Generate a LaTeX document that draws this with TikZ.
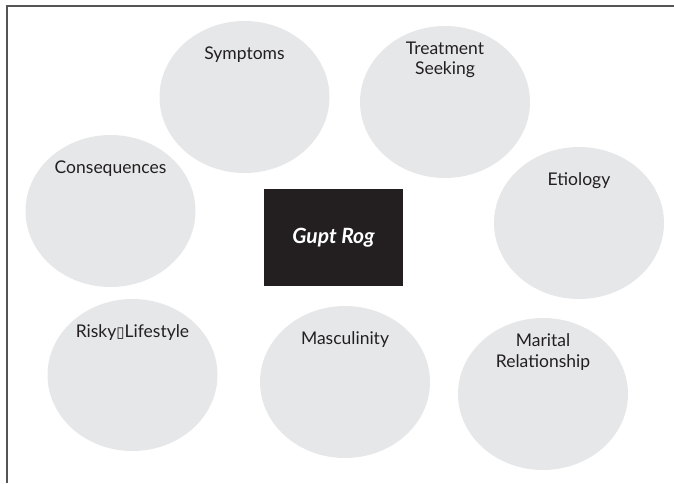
\documentclass[tikz,border=0pt]{standalone}
\usepackage{fontspec}
\setmainfont{Lato}
\newfontfamily\dejavu{DejaVu Sans}
\usetikzlibrary{shapes.geometric}
\definecolor{bubble}{HTML}{E6E7E8}
\definecolor{ink}{HTML}{231F20}
\definecolor{framegray}{HTML}{555555}
\tikzset{
  bubble/.style={ellipse, fill=bubble, draw=none, minimum width=170pt, minimum height=152pt, inner sep=0pt},
  bubbletext/.style={text=ink, font=\fontsize{17.5}{20.5}\selectfont, align=center, inner sep=0pt},
  core/.style={rectangle, fill=ink, minimum width=139pt, minimum height=97pt, inner sep=0pt,
    text=white, font=\fontsize{21}{24}\selectfont\bfseries\itshape},
}
\begin{document}
\begin{tikzpicture}[x=1pt,y=-1pt]
\useasboundingbox (0,0) rectangle (674,483);
\coordinate (fbl) at (6.5,483);
\coordinate (ftl) at (6.5,5.8);
\coordinate (ftr) at (674,5.8);
\draw[framegray, line width=2pt] (fbl) -- (ftl) -- (ftr);

\node[bubble] (sym) at (244.5,97) {};
\node[bubble] (treat) at (445,102) {};
\node[bubble] (cons) at (110.5,211) {};
\node[bubble] (etio) at (579,223) {};
\node[bubble] (risky) at (132.5,375) {};
\node[bubble] (masc) at (345,382) {};
\node[bubble] (mar) at (543,394) {};

\node[bubbletext] (symT) at ([yshift=-34pt]sym.north) {Symptoms};
\node[bubbletext] (treatT) at ([yshift=-34pt]treat.north) {Treatment\\Seeking};
\node[bubbletext] (consT) at ([yshift=-34pt]cons.north) {Consequences};
\node[bubbletext] (etioT) at ([yshift=-34pt]etio.north) {Etiology};
\node[bubbletext] (riskyT) at ([yshift=-34pt]risky.north) {Risky{\dejavu\fontsize{15}{15}\selectfont ▯}Lifestyle};
\node[bubbletext] (mascT) at ([yshift=-34pt]masc.north) {Masculinity};
\node[bubbletext] (marT) at ([yshift=-34pt]mar.north) {Marital\\Relationship};

\node[core] (gupt) at (333.5,237.5) {Gupt Rog};
\end{tikzpicture}
\end{document}
